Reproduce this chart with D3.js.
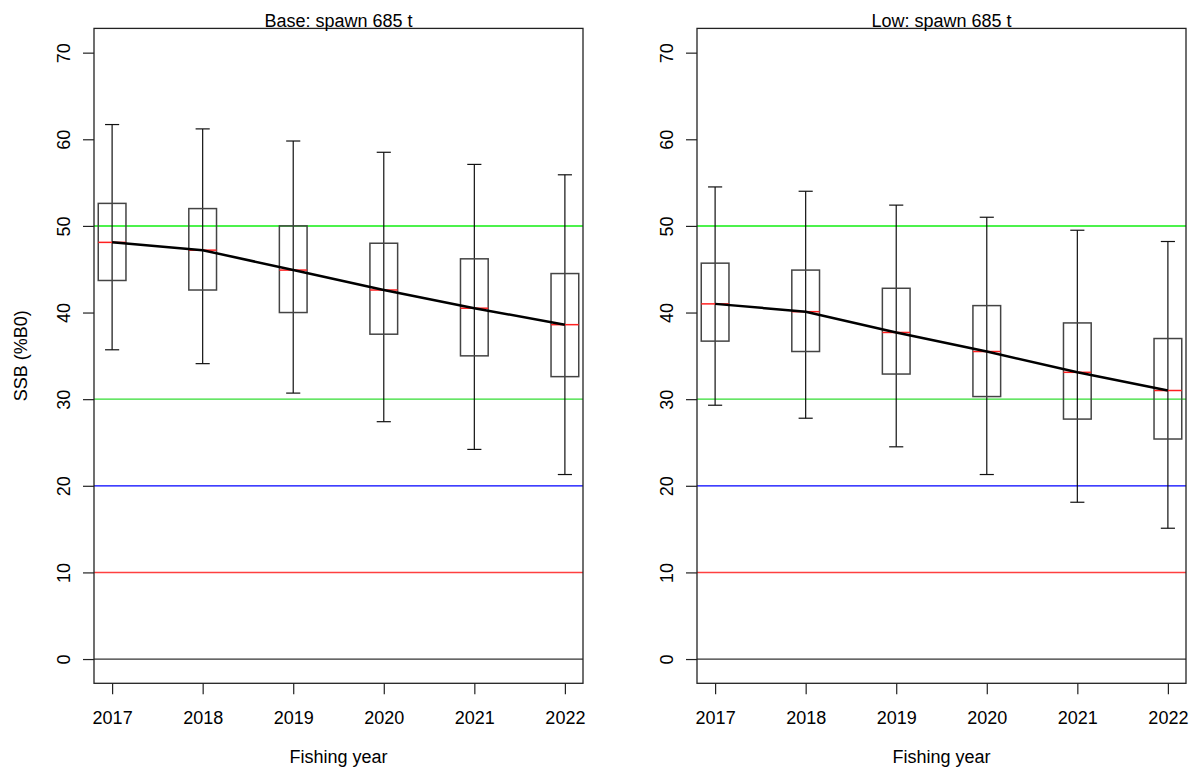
<!DOCTYPE html>
<html><head><meta charset="utf-8">
<script src="https://cdn.jsdelivr.net/npm/d3@7"></script>
<style>body{margin:0;background:#fff;} text{font-family:"Liberation Sans",Arial,sans-serif;}</style>
</head><body>
<svg id="c" width="1197" height="773"></svg>
<script>
const years = [2017, 2018, 2019, 2020, 2021, 2022];
const yTicks = [0, 10, 20, 30, 40, 50, 60, 70];
const titles = ["Base: spawn 685 t", "Low: spawn 685 t"];
// Base panel
const baseHigh   = [61.7, 61.2, 59.8, 58.5, 57.1, 55.9];
const baseQ3     = [52.6, 52.0, 50.0, 48.0, 46.2, 44.5];
const baseMedian = [48.1, 47.2, 44.9, 42.6, 40.5, 38.6];
const baseQ1     = [43.7, 42.6, 40.0, 37.5, 35.0, 32.6];
const baseLow    = [35.7, 34.1, 30.7, 27.4, 24.2, 21.3];
// Low panel
const lowHigh    = [54.5, 54.0, 52.4, 51.0, 49.5, 48.2];
const lowQ3      = [45.7, 44.9, 42.8, 40.8, 38.8, 37.0];
const lowMedian  = [41.0, 40.1, 37.7, 35.5, 33.1, 31.0];
const lowQ1      = [36.7, 35.5, 32.9, 30.3, 27.7, 25.4];
const lowLow     = [29.3, 27.8, 24.5, 21.3, 18.1, 15.1];
const refValues  = [50, 30, 20, 10, 0];
const refColors  = ["#4cf24c", "#33dd33", "#0000ff", "#ff4040", "#333333"];
const refWidths  = [2, 1.2, 1.2, 1.5, 1.2];

const svg = d3.select("#c");
const panels = [
  {x0: 94, x1: 583, high: baseHigh, q3: baseQ3, med: baseMedian, q1: baseQ1, low: baseLow, title: titles[0], ylab: true},
  {x0: 697, x1: 1186, high: lowHigh, q3: lowQ3, med: lowMedian, q1: lowQ1, low: lowLow, title: titles[1], ylab: false}
];
const yTop = 28.4, yBot = 683.3;
const fs = 18;

panels.forEach((p, pi) => {
  const x = d3.scaleLinear().domain([2016.8, 2022.2]).range([p.x0, p.x1]);
  const y = d3.scaleLinear().domain([-2.8, 72.8]).range([yBot, yTop]);
  const g = svg.append("g");
  const clipId = "clip" + pi;
  svg.append("clipPath").attr("id", clipId).append("rect")
    .attr("x", p.x0).attr("y", yTop).attr("width", p.x1 - p.x0).attr("height", yBot - yTop);

  // reference lines
  const refs = g.append("g").attr("clip-path", `url(#${clipId})`);
  refValues.forEach((v, i) => {
    refs.append("line").attr("x1", p.x0).attr("x2", p.x1)
      .attr("y1", y(v)).attr("y2", y(v))
      .attr("stroke", refColors[i]).attr("stroke-width", refWidths[i]);
  });

  const bw = 0.153, cw = 0.078;
  years.forEach((yr, i) => {
    // whisker
    g.append("line").attr("x1", x(yr)).attr("x2", x(yr))
      .attr("y1", y(p.high[i])).attr("y2", y(p.low[i]))
      .attr("stroke", "#111").attr("stroke-width", 1.2);
    [p.high[i], p.low[i]].forEach(v => {
      g.append("line").attr("x1", x(yr - cw)).attr("x2", x(yr + cw))
        .attr("y1", y(v)).attr("y2", y(v))
        .attr("stroke", "#111").attr("stroke-width", 1.2);
    });
    // box
    g.append("rect").attr("x", x(yr - bw)).attr("y", y(p.q3[i]))
      .attr("width", x(yr + bw) - x(yr - bw)).attr("height", y(p.q1[i]) - y(p.q3[i]))
      .attr("fill", "none").attr("stroke", "#444").attr("stroke-width", 1.5);
    // median
    g.append("line").attr("x1", x(yr - bw)).attr("x2", x(yr + bw))
      .attr("y1", y(p.med[i])).attr("y2", y(p.med[i]))
      .attr("stroke", "#ff2020").attr("stroke-width", 1.5);
  });

  // median trend line
  g.append("path").datum(years.map((yr, i) => [yr, p.med[i]]))
    .attr("d", d3.line().x(d => x(d[0])).y(d => y(d[1])))
    .attr("fill", "none").attr("stroke", "#000").attr("stroke-width", 2.5);

  // frame
  g.append("rect").attr("x", p.x0).attr("y", yTop).attr("width", p.x1 - p.x0).attr("height", yBot - yTop)
    .attr("fill", "none").attr("stroke", "#222").attr("stroke-width", 1.3);

  // y axis
  const ya = g.append("g").attr("transform", `translate(${p.x0},0)`)
    .call(d3.axisLeft(y).tickValues(yTicks).tickSize(11).tickFormat(d3.format("d")));
  ya.select(".domain").remove();
  ya.selectAll(".tick line").attr("stroke", "#222").attr("stroke-width", 1.2);
  ya.selectAll(".tick text").attr("font-size", fs).attr("fill", "#000")
    .attr("transform", "rotate(-90)").attr("x", 0).attr("y", -24).attr("dy", 0)
    .attr("text-anchor", "middle");

  // x axis
  const xa = g.append("g").attr("transform", `translate(0,${yBot})`)
    .call(d3.axisBottom(x).tickValues(years).tickSize(11).tickFormat(d3.format("d")));
  xa.select(".domain").remove();
  xa.selectAll(".tick line").attr("stroke", "#222").attr("stroke-width", 1.2);
  xa.selectAll(".tick text").attr("font-size", fs).attr("fill", "#000").attr("y", 41).attr("dy", 0);

  // title
  g.append("text").attr("x", (p.x0 + p.x1) / 2).attr("y", 26.5).attr("text-anchor", "middle")
    .attr("font-size", fs).text(p.title);
  // x label
  g.append("text").attr("x", (p.x0 + p.x1) / 2).attr("y", 763).attr("text-anchor", "middle")
    .attr("font-size", fs).text("Fishing year");
  // y label (left panel only)
  if (p.ylab) {
    g.append("text").attr("transform", `translate(${p.x0 - 67},${(yTop + yBot) / 2}) rotate(-90)`)
      .attr("text-anchor", "middle").attr("font-size", fs).text("SSB (%B0)");
  }
});
</script>
</body></html>
